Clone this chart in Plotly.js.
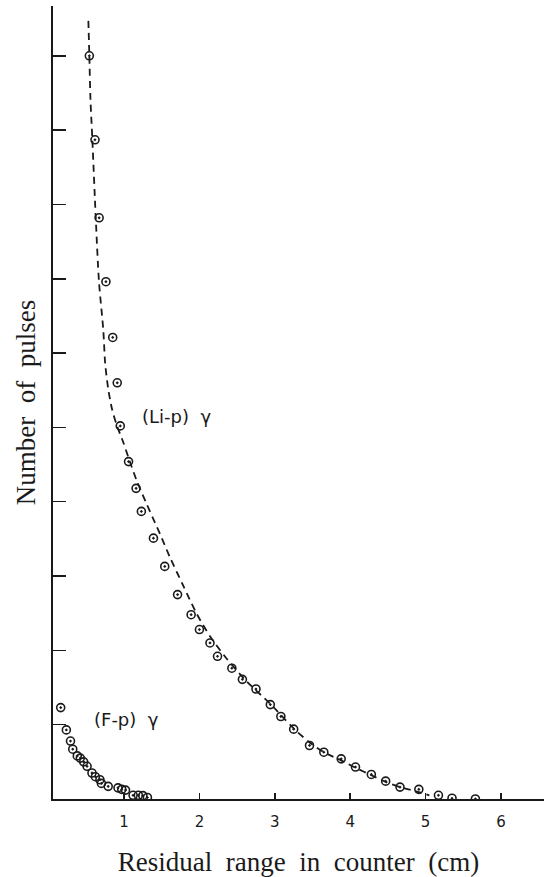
<!DOCTYPE html>
<html>
<head>
<meta charset="utf-8">
<script src="https://cdn.plot.ly/plotly-3.0.1.min.js"></script>
<style>html,body{margin:0;padding:0;background:#fff;}#chart{width:544px;height:877px;}</style>
</head>
<body>
<div id="chart"></div>
<script>
// (Li-p) gamma measured points
const liX = [0.54, 0.615, 0.67, 0.76, 0.85, 0.91, 0.95, 1.06, 1.16, 1.23, 1.39, 1.54, 1.71, 1.89, 2.0, 2.14, 2.24, 2.43, 2.57, 2.75, 2.94, 3.08, 3.25, 3.46, 3.65, 3.88, 4.07, 4.28, 4.47, 4.66, 4.91, 5.17, 5.35, 5.66];
const liY = [10.0, 8.87, 7.82, 6.96, 6.21, 5.6, 5.02, 4.54, 4.18, 3.87, 3.51, 3.13, 2.75, 2.48, 2.28, 2.10, 1.92, 1.76, 1.61, 1.48, 1.27, 1.11, 0.94, 0.72, 0.63, 0.54, 0.43, 0.33, 0.24, 0.16, 0.13, 0.05, 0.01, 0.0];
// dashed fitted curve for (Li-p)
const curveX = [0.527, 0.54, 0.555, 0.58, 0.625, 0.668, 0.725, 0.75, 0.79, 0.84, 0.90, 0.99, 1.06, 1.17, 1.30, 1.41, 1.48, 1.61, 1.79, 1.96, 2.14, 2.36, 2.63, 2.94, 3.08, 3.25, 3.45, 3.65, 3.88, 4.07, 4.28, 4.47, 4.66, 4.85, 5.05];
const curveY = [10.47, 10.0, 9.41, 8.87, 7.82, 6.96, 6.31, 5.86, 5.52, 5.25, 5.04, 4.80, 4.59, 4.28, 3.97, 3.72, 3.56, 3.25, 2.86, 2.50, 2.19, 1.89, 1.58, 1.28, 1.13, 0.95, 0.77, 0.63, 0.52, 0.42, 0.32, 0.23, 0.16, 0.11, 0.05];
// (F-p) gamma measured points
const fX = [0.16, 0.235, 0.29, 0.32, 0.38, 0.42, 0.465, 0.51, 0.575, 0.62, 0.68, 0.70, 0.79, 0.92, 0.97, 1.02, 1.12, 1.19, 1.25, 1.31];
const fY = [1.23, 0.93, 0.78, 0.67, 0.58, 0.55, 0.50, 0.44, 0.35, 0.30, 0.26, 0.21, 0.17, 0.15, 0.13, 0.12, 0.05, 0.05, 0.045, 0.02];
// ticks
const xTicks = [1, 2, 3, 4, 5, 6];
const xTickText = ["1", "2", "3", "4", "5", "6"];
const yTicks = [1, 2, 3, 4, 5, 6, 7, 8, 9, 10];

const ink = "#1a1a1a";
const markerStyle = {symbol: "circle-open-dot", size: 8, color: ink, line: {width: 1.6, color: ink}};
const sp = "\u00a0 ";

const data = [
  {x: curveX, y: curveY, mode: "lines", line: {color: ink, width: 1.8, dash: "7px,5px", shape: "spline", smoothing: 0.8}, hoverinfo: "skip", showlegend: false},
  {x: liX, y: liY, mode: "markers", marker: markerStyle, showlegend: false},
  {x: fX, y: fY, mode: "markers", marker: markerStyle, showlegend: false}
];

const layout = {
  width: 544, height: 877,
  margin: {l: 53, r: 0, t: 6, b: 78},
  paper_bgcolor: "#fff", plot_bgcolor: "#fff",
  showlegend: false,
  xaxis: {
    range: [0.058, 6.57], showgrid: false, zeroline: false,
    showline: true, linecolor: ink, linewidth: 2,
    tickmode: "array", tickvals: xTicks, ticktext: xTickText,
    ticks: "inside", ticklen: 6, tickwidth: 1.5, tickcolor: ink,
    ticklabelstandoff: 8,
    tickfont: {family: "DejaVu Sans", size: 15, color: ink},
    title: {text: "Residual" + sp + "range" + sp + "in" + sp + "counter" + sp + "(cm)", font: {family: "Liberation Serif", size: 27, color: ink}, standoff: 22}
  },
  yaxis: {
    range: [0, 10.67], showgrid: false, zeroline: false,
    showline: true, linecolor: ink, linewidth: 2,
    tickmode: "array", tickvals: yTicks, showticklabels: false,
    ticks: "inside", ticklen: 13, tickwidth: 1.5, tickcolor: ink,
    title: {text: "Number" + sp + "of" + sp + "pulses", font: {family: "Liberation Serif", size: 27, color: ink}, standoff: 8}
  },
  annotations: [
    {x: 1.21, y: 5.14, xref: "x", yref: "y", text: "(Li-p)\u00a0 γ", showarrow: false, xanchor: "left", yanchor: "middle", font: {family: "DejaVu Sans", size: 18, color: ink}},
    {x: 0.57, y: 1.07, xref: "x", yref: "y", text: "(F-p)\u00a0 γ", showarrow: false, xanchor: "left", yanchor: "middle", font: {family: "DejaVu Sans", size: 18, color: ink}}
  ]
};

Plotly.newPlot("chart", data, layout, {staticPlot: true, displayModeBar: false});
</script>
</body>
</html>
